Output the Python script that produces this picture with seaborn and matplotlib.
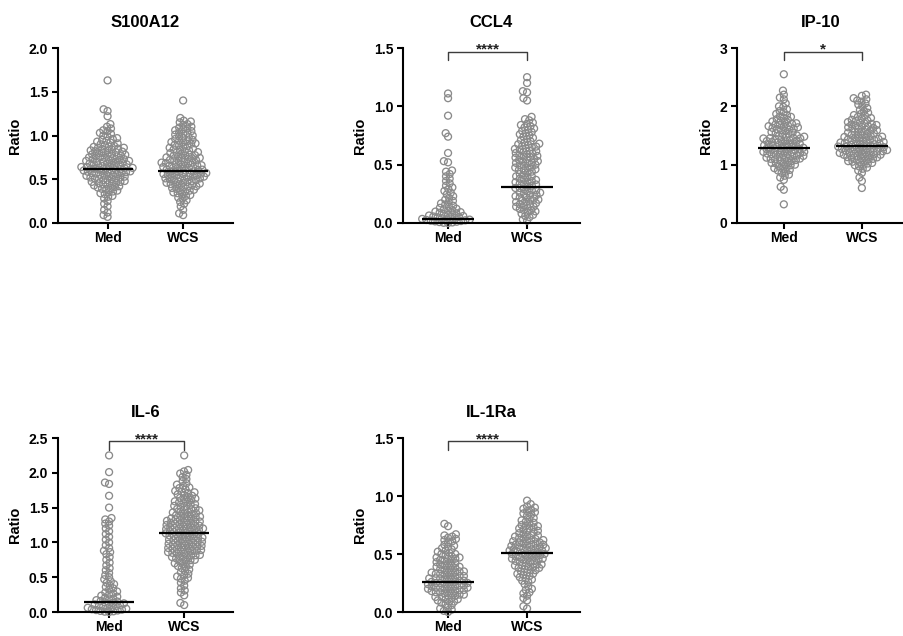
import numpy as np
import pandas as pd
import matplotlib
matplotlib.use("Agg")
import matplotlib.pyplot as plt
import seaborn as sns
from matplotlib.ticker import FormatStrFormatter, MultipleLocator

groups = ["Med", "WCS"]
analytes = ["S100A12", "CCL4", "IP-10", "IL-6", "IL-1Ra"]

s100a12_med = [0.07, 0.09, 0.12, 0.15, 0.19, 0.22, 0.25, 0.28, 0.30, 0.31, 0.33, 0.34, 0.35, 0.36, 0.37,
               0.39, 0.39, 0.40, 0.405, 0.41, 0.42, 0.43, 0.44, 0.44, 0.45, 0.455, 0.46, 0.47, 0.47,
               0.48, 0.49, 0.49, 0.50, 0.505, 0.51, 0.51, 0.52, 0.52, 0.53, 0.535, 0.54, 0.54, 0.55,
               0.55, 0.56, 0.565, 0.57, 0.57, 0.58, 0.58, 0.585, 0.59, 0.59, 0.60, 0.60, 0.605, 0.61,
               0.615, 0.62, 0.62, 0.625, 0.63, 0.63, 0.64, 0.64, 0.645, 0.65, 0.65, 0.66, 0.665, 0.67,
               0.67, 0.68, 0.68, 0.685, 0.69, 0.70, 0.70, 0.705, 0.71, 0.71, 0.72, 0.725, 0.73, 0.73,
               0.74, 0.745, 0.75, 0.75, 0.76, 0.765, 0.77, 0.78, 0.78, 0.785, 0.79, 0.80, 0.80, 0.81,
               0.815, 0.82, 0.83, 0.83, 0.84, 0.845, 0.85, 0.86, 0.86, 0.87, 0.875, 0.88, 0.89, 0.90,
               0.91, 0.92, 0.93, 0.94, 0.95, 0.96, 0.97, 0.99, 1.00, 1.02, 1.03, 1.05, 1.06, 1.08,
               1.10, 1.13, 1.22, 1.28, 1.30, 1.63]
s100a12_wcs = [0.09, 0.11, 0.15, 0.19, 0.22, 0.24, 0.26, 0.28, 0.29, 0.31, 0.32, 0.33, 0.34, 0.35, 0.36,
               0.37, 0.375, 0.38, 0.39, 0.40, 0.41, 0.415, 0.42, 0.43, 0.43, 0.44, 0.445, 0.45, 0.46,
               0.46, 0.47, 0.475, 0.48, 0.49, 0.49, 0.50, 0.505, 0.51, 0.51, 0.52, 0.525, 0.53, 0.53,
               0.54, 0.54, 0.545, 0.55, 0.56, 0.56, 0.565, 0.57, 0.57, 0.58, 0.585, 0.59, 0.59, 0.60,
               0.605, 0.61, 0.61, 0.62, 0.625, 0.63, 0.63, 0.64, 0.64, 0.65, 0.655, 0.66, 0.66, 0.67,
               0.67, 0.68, 0.685, 0.69, 0.69, 0.70, 0.71, 0.715, 0.72, 0.72, 0.73, 0.74, 0.74, 0.745,
               0.75, 0.76, 0.77, 0.77, 0.775, 0.78, 0.79, 0.80, 0.805, 0.81, 0.82, 0.83, 0.835, 0.84,
               0.85, 0.86, 0.87, 0.88, 0.89, 0.895, 0.905, 0.91, 0.92, 0.925, 0.935, 0.94, 0.95, 0.96,
               0.97, 0.98, 0.99, 1.00, 1.01, 1.02, 1.03, 1.04, 1.05, 1.06, 1.07, 1.08, 1.09, 1.10,
               1.12, 1.13, 1.15, 1.16, 1.17, 1.20, 1.40]

ccl4_med = [0.000, 0.002, 0.005, 0.008, 0.011, 0.014, 0.017, 0.020, 0.023, 0.026, 0.029, 0.032, 0.035,
            0.038, 0.041, 0.044, 0.048, 0.052, 0.056, 0.060, 0.064, 0.068, 0.073, 0.078, 0.083, 0.088,
            0.093, 0.098, 0.104, 0.110, 0.116, 0.122, 0.130, 0.139, 0.148, 0.158, 0.168, 0.179, 0.190,
            0.20, 0.215, 0.23, 0.245, 0.26, 0.275, 0.29, 0.305, 0.32, 0.34, 0.36, 0.38, 0.40, 0.42,
            0.44, 0.45, 0.52, 0.53, 0.60, 0.74, 0.77, 0.92, 1.07, 1.11]
ccl4_wcs = [0.02, 0.03, 0.05, 0.06, 0.07, 0.08, 0.09, 0.10, 0.11, 0.11, 0.12, 0.13, 0.14, 0.14, 0.15,
            0.16, 0.16, 0.17, 0.18, 0.18, 0.19, 0.20, 0.20, 0.21, 0.22, 0.22, 0.23, 0.24, 0.24, 0.25,
            0.26, 0.26, 0.27, 0.28, 0.28, 0.29, 0.30, 0.30, 0.31, 0.32, 0.33, 0.33, 0.34, 0.35, 0.35,
            0.36, 0.37, 0.37, 0.38, 0.39, 0.40, 0.40, 0.41, 0.42, 0.43, 0.44, 0.45, 0.455, 0.46, 0.47,
            0.475, 0.48, 0.49, 0.495, 0.50, 0.51, 0.515, 0.52, 0.525, 0.53, 0.54, 0.545, 0.55, 0.56,
            0.565, 0.57, 0.575, 0.58, 0.59, 0.595, 0.60, 0.61, 0.615, 0.62, 0.63, 0.635, 0.64, 0.65,
            0.655, 0.66, 0.67, 0.675, 0.68, 0.69, 0.70, 0.71, 0.72, 0.73, 0.74, 0.75, 0.76, 0.77,
            0.78, 0.79, 0.80, 0.81, 0.82, 0.83, 0.84, 0.85, 0.86, 0.88, 0.89, 0.91, 1.05, 1.07, 1.12,
            1.13, 1.20, 1.25]

ip10_med = [0.32, 0.57, 0.62, 0.74, 0.78, 0.81, 0.83, 0.86, 0.88, 0.90, 0.91, 0.93, 0.94, 0.96, 0.97,
            0.99, 1.00, 1.01, 1.02, 1.03, 1.04, 1.06, 1.06, 1.08, 1.09, 1.09, 1.10, 1.105, 1.11, 1.12,
            1.13, 1.14, 1.15, 1.155, 1.16, 1.17, 1.18, 1.18, 1.19, 1.20, 1.205, 1.21, 1.22, 1.22, 1.23,
            1.24, 1.25, 1.255, 1.26, 1.27, 1.27, 1.28, 1.29, 1.30, 1.305, 1.31, 1.32, 1.32, 1.33, 1.34,
            1.35, 1.355, 1.36, 1.37, 1.38, 1.39, 1.40, 1.405, 1.41, 1.42, 1.43, 1.44, 1.45, 1.45,
            1.455, 1.46, 1.47, 1.48, 1.49, 1.50, 1.52, 1.53, 1.54, 1.55, 1.56, 1.58, 1.59, 1.60, 1.61,
            1.62, 1.63, 1.64, 1.65, 1.66, 1.67, 1.68, 1.69, 1.70, 1.71, 1.72, 1.74, 1.75, 1.77, 1.78,
            1.80, 1.82, 1.83, 1.85, 1.87, 1.90, 1.92, 1.95, 1.99, 2.00, 2.05, 2.12, 2.15, 2.20, 2.27,
            2.55]
ip10_wcs = [0.60, 0.72, 0.78, 0.86, 0.90, 0.93, 0.95, 0.97, 0.99, 1.00, 1.02, 1.03, 1.04, 1.05, 1.06,
            1.07, 1.08, 1.09, 1.10, 1.11, 1.12, 1.125, 1.13, 1.14, 1.15, 1.16, 1.17, 1.17, 1.175, 1.18,
            1.19, 1.20, 1.20, 1.21, 1.22, 1.225, 1.23, 1.23, 1.24, 1.25, 1.25, 1.26, 1.27, 1.27, 1.275,
            1.28, 1.29, 1.29, 1.30, 1.31, 1.31, 1.32, 1.325, 1.33, 1.34, 1.35, 1.36, 1.36, 1.37, 1.375,
            1.38, 1.39, 1.40, 1.41, 1.42, 1.42, 1.425, 1.43, 1.44, 1.45, 1.46, 1.47, 1.475, 1.48, 1.49,
            1.50, 1.51, 1.52, 1.53, 1.54, 1.55, 1.56, 1.57, 1.58, 1.59, 1.60, 1.61, 1.62, 1.63, 1.64,
            1.65, 1.66, 1.67, 1.68, 1.69, 1.70, 1.71, 1.72, 1.73, 1.75, 1.76, 1.77, 1.79, 1.80, 1.82,
            1.84, 1.85, 1.87, 1.89, 1.92, 1.94, 1.97, 2.00, 2.03, 2.05, 2.08, 2.10, 2.12, 2.14, 2.18,
            2.20]

il6_med = [0.000, 0.005, 0.010, 0.016, 0.022, 0.028, 0.034, 0.040, 0.047, 0.054, 0.061, 0.068, 0.076,
           0.084, 0.092, 0.100, 0.108, 0.116, 0.124, 0.132, 0.140, 0.150, 0.160, 0.170, 0.180, 0.192,
           0.205, 0.220, 0.235, 0.250, 0.265, 0.280, 0.295, 0.32, 0.34, 0.36, 0.38, 0.40, 0.42, 0.44,
           0.47, 0.50, 0.53, 0.56, 0.60, 0.63, 0.67, 0.71, 0.75, 0.79, 0.83, 0.86, 0.88, 0.92, 0.96,
           1.00, 1.04, 1.08, 1.12, 1.16, 1.20, 1.24, 1.27, 1.30, 1.33, 1.35,
           1.50, 1.67, 1.84, 1.86, 2.01, 2.25]
il6_wcs = [0.10, 0.13, 0.24, 0.28, 0.31, 0.34, 0.38, 0.42, 0.45, 0.48, 0.49, 0.51, 0.53, 0.55, 0.57,
           0.59, 0.61, 0.63, 0.65, 0.66, 0.68, 0.69, 0.70, 0.72, 0.73, 0.745, 0.75, 0.76, 0.77, 0.785,
           0.79, 0.80, 0.81, 0.815, 0.82, 0.835, 0.84, 0.85, 0.855, 0.86, 0.87, 0.875, 0.88, 0.89,
           0.895, 0.90, 0.91, 0.915, 0.92, 0.93, 0.935, 0.94, 0.95, 0.955, 0.96, 0.97, 0.975, 0.98,
           0.99, 0.995, 1.00, 1.01, 1.015, 1.02, 1.03, 1.035, 1.04, 1.05, 1.055, 1.06, 1.07, 1.075,
           1.08, 1.09, 1.095, 1.10, 1.11, 1.115, 1.12, 1.13, 1.135, 1.14, 1.15, 1.155, 1.16, 1.17,
           1.175, 1.18, 1.19, 1.195, 1.20, 1.20, 1.21, 1.215, 1.22, 1.23, 1.235, 1.24, 1.25, 1.255,
           1.26, 1.27, 1.275, 1.28, 1.29, 1.295, 1.30, 1.31, 1.315, 1.32, 1.33, 1.34, 1.345, 1.35,
           1.36, 1.37, 1.375, 1.38, 1.39, 1.405, 1.41, 1.42, 1.43, 1.435, 1.44, 1.46, 1.47, 1.475,
           1.48, 1.49, 1.51, 1.52, 1.525, 1.54, 1.55, 1.56, 1.575, 1.58, 1.59, 1.61, 1.62, 1.63,
           1.64, 1.65, 1.67, 1.68, 1.69, 1.71, 1.72, 1.73, 1.74, 1.76, 1.78, 1.79, 1.81, 1.83, 1.85,
           1.88, 1.91, 1.94, 1.97, 1.99, 2.02, 2.04, 2.25]

il1ra_med = [0.00, 0.01, 0.02, 0.03, 0.04, 0.06, 0.07, 0.08, 0.09, 0.09, 0.10, 0.11, 0.11, 0.12, 0.13,
             0.13, 0.14, 0.14, 0.15, 0.15, 0.16, 0.16, 0.17, 0.17, 0.18, 0.18, 0.18, 0.19, 0.19, 0.20,
             0.20, 0.20, 0.21, 0.21, 0.21, 0.22, 0.22, 0.22, 0.23, 0.23, 0.24, 0.24, 0.24, 0.25, 0.25,
             0.25, 0.26, 0.26, 0.26, 0.27, 0.27, 0.28, 0.28, 0.29, 0.29, 0.29, 0.30, 0.30, 0.31, 0.31,
             0.32, 0.32, 0.33, 0.33, 0.34, 0.34, 0.34, 0.35, 0.35, 0.36, 0.36, 0.37, 0.38, 0.38, 0.39,
             0.39, 0.40, 0.40, 0.41, 0.42, 0.42, 0.43, 0.44, 0.44, 0.45, 0.46, 0.46, 0.47, 0.47, 0.48,
             0.49, 0.50, 0.50, 0.51, 0.52, 0.53, 0.54, 0.55, 0.56, 0.57, 0.58, 0.60, 0.61, 0.62, 0.63,
             0.64, 0.65, 0.66, 0.67, 0.74, 0.76]
il1ra_wcs = [0.03, 0.05, 0.10, 0.12, 0.14, 0.16, 0.17, 0.19, 0.20, 0.22, 0.24, 0.26, 0.27, 0.28, 0.29,
             0.30, 0.31, 0.32, 0.33, 0.33, 0.34, 0.35, 0.36, 0.36, 0.37, 0.38, 0.38, 0.39, 0.39, 0.40,
             0.40, 0.41, 0.41, 0.42, 0.43, 0.43, 0.44, 0.44, 0.45, 0.45, 0.46, 0.46, 0.46, 0.47, 0.47,
             0.48, 0.48, 0.49, 0.49, 0.50, 0.50, 0.50, 0.51, 0.51, 0.52, 0.52, 0.53, 0.53, 0.53, 0.54,
             0.54, 0.55, 0.55, 0.55, 0.56, 0.56, 0.57, 0.57, 0.58, 0.58, 0.58, 0.59, 0.59, 0.60, 0.60,
             0.61, 0.61, 0.62, 0.62, 0.63, 0.63, 0.64, 0.65, 0.65, 0.66, 0.66, 0.67, 0.68, 0.69, 0.69,
             0.70, 0.71, 0.72, 0.72, 0.73, 0.74, 0.74, 0.75, 0.76, 0.77, 0.78, 0.79, 0.80, 0.81, 0.83,
             0.84, 0.85, 0.86, 0.87, 0.88, 0.89, 0.90, 0.91, 0.93, 0.96]

# medians as drawn
s100a12_medians = [0.62, 0.60]
ccl4_medians = [0.035, 0.31]
ip10_medians = [1.28, 1.32]
il6_medians = [0.15, 1.13]
il1ra_medians = [0.26, 0.51]

significance = ["", "****", "*", "****", "****"]
y_max = [2.0, 1.5, 3.0, 2.5, 1.5]
y_step = [0.5, 0.5, 1.0, 0.5, 0.5]
y_fmt = ["%.1f", "%.1f", "%d", "%.1f", "%.1f"]

series = [(s100a12_med, s100a12_wcs, s100a12_medians),
          (ccl4_med, ccl4_wcs, ccl4_medians),
          (ip10_med, ip10_wcs, ip10_medians),
          (il6_med, il6_wcs, il6_medians),
          (il1ra_med, il1ra_wcs, il1ra_medians)]

sns.set_theme(style="ticks")
plt.rcParams["font.family"] = ["Liberation Sans", "DejaVu Sans"]
plt.rcParams["font.weight"] = "bold"
plt.rcParams["axes.labelweight"] = "bold"
plt.rcParams["axes.titleweight"] = "bold"

W, H = 904, 636
fig = plt.figure(figsize=(W / 100, H / 100), dpi=100)
fig.patch.set_facecolor("white")

# (left px, bottom px from top, width px, height px)
panel_px = [(58, 223, 175, 175), (403, 223, 177, 175), (737, 223, 167, 175),
            (58, 612, 175, 174), (403, 612, 177, 174)]
xlims = [(-0.656, 1.66), (-0.57, 1.67), (-0.60, 1.54), (-0.68, 1.65), (-0.57, 1.67)]

POINT_COLOR = "#8a8a8a"
LAYOUT_SIZE = 3.0     # marker size (pt) used for the swarm arrangement
DRAW_SIZE = 25        # marker area (pt^2) used for drawing

axes = []
for i, name in enumerate(analytes):
    x0, yb, w, h = panel_px[i]
    ax = fig.add_axes([x0 / W, 1 - yb / H, w / W, h / H])
    med, wcs, mdn = series[i]
    df = pd.DataFrame({"group": ["Med"] * len(med) + ["WCS"] * len(wcs),
                       "value": list(med) + list(wcs)})
    sns.swarmplot(data=df, x="group", y="value", order=groups, ax=ax,
                  size=LAYOUT_SIZE, color=POINT_COLOR, linewidth=0, warn_thresh=1.0)
    ax.set_xlim(*xlims[i])
    ax.set_ylim(0, y_max[i])
    axes.append(ax)

fig.canvas.draw()

for i, ax in enumerate(axes):
    name = analytes[i]
    med, wcs, mdn = series[i]
    for coll in ax.collections:
        if "draw" in vars(coll):
            del coll.draw
        coll.set_sizes([DRAW_SIZE])
        coll.set_facecolor("none")
        coll.set_edgecolor(POINT_COLOR)
        coll.set_linewidth(0.95)
        coll.set_clip_on(False)
        coll.set_zorder(2)
    for j, m in enumerate(mdn):
        ax.hlines(m, j - 0.33, j + 0.33, color="black", lw=1.6, zorder=4)

    sns.despine(ax=ax)
    for sp in ("left", "bottom"):
        ax.spines[sp].set_linewidth(1.5)
        ax.spines[sp].set_color("black")
        ax.spines[sp].set_zorder(3)
    ax.yaxis.set_major_locator(MultipleLocator(y_step[i]))
    ax.yaxis.set_major_formatter(FormatStrFormatter(y_fmt[i]))
    ax.set_ylim(0, y_max[i])
    ax.tick_params(axis="y", length=4, width=1.5, pad=3, labelsize=10, colors="black")
    ax.tick_params(axis="x", length=4, width=1.5, pad=2, labelsize=10, colors="black")
    for lab in ax.get_xticklabels() + ax.get_yticklabels():
        lab.set_fontweight("bold")
    ax.set_xlabel("")
    ax.set_ylabel("Ratio", fontsize=10.5, fontweight="bold", labelpad=5, color="black")
    ax.set_title(name, fontsize=12, fontweight="bold", pad=15, color="black")

    if significance[i]:
        top = 0.98 * y_max[i]
        leg = 0.93 * y_max[i]
        ax.plot([0, 0, 1, 1], [leg, top, top, leg], color="#3c3c3c", lw=1.0,
                clip_on=False, zorder=5)
        ax.annotate(significance[i], xy=(0.5, top), xytext=(0, -1.5),
                    textcoords="offset points", ha="center", va="baseline",
                    fontsize=11, fontweight="bold", color="#222222",
                    annotation_clip=False)

fig.savefig("out.png", dpi=100)
